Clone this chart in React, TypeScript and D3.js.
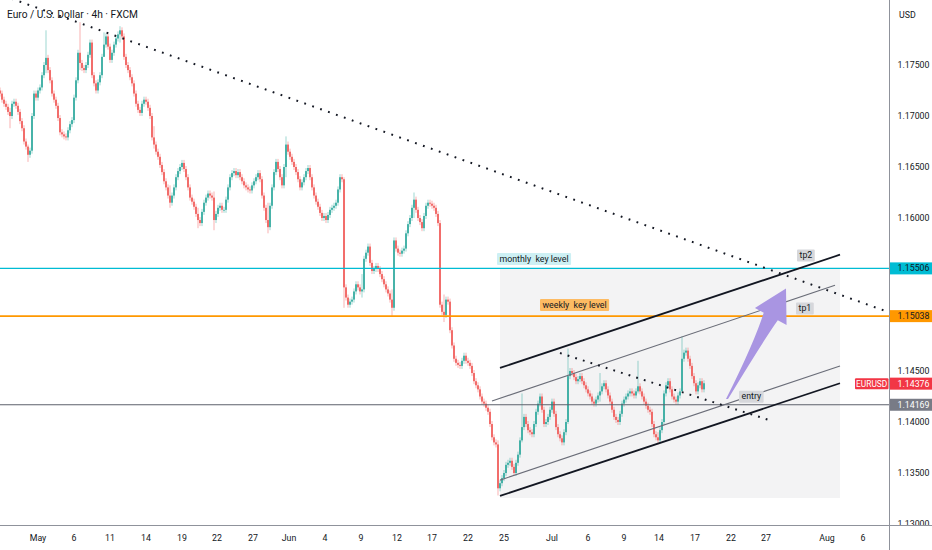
import React, { useMemo } from 'react';
import * as d3 from 'd3';

// 4h closes, in pips above 1.1000
const closesMay = [
  722, 716, 712, 709, 704, 700, 712, 714, 710, 704, 695, 688, 675, 670, 662, 666,
  700, 722, 718, 725, 728, 740, 750, 757, 745, 735, 722, 716, 710, 698, 684, 682,
  680, 679, 686, 692, 696, 718, 735, 762, 752, 747, 745, 750, 760, 772, 740, 732,
  725, 733, 740, 758, 770, 778, 768, 755, 762, 770, 776, 780, 784, 778, 758, 750,
  745, 738, 732, 722, 712, 706, 703, 712, 716, 714, 708, 700, 679, 672, 665, 660,
  652, 645, 636, 630, 622, 615, 622, 630, 640, 646, 650, 654, 648, 640, 630, 620,
  616, 611, 604, 598, 595, 606, 615, 620, 624, 622, 620, 598, 604, 610, 612, 608,
  608, 618, 630, 640, 644, 646, 642, 645, 640, 636, 632, 630, 628, 627, 632, 636,
  640, 644, 638, 622, 610, 598, 591, 612, 630, 645, 655, 648, 640, 632, 650, 672,
];
const closesJun = [
  665, 660, 655, 650, 645, 638, 630, 635, 640, 646, 649, 640, 630, 622, 616, 611,
  605, 600, 602, 598, 603, 608, 610, 612, 615, 628, 640, 638, 532, 522, 515, 518,
  520, 528, 535, 532, 528, 530, 560, 566, 572, 556, 548, 550, 553, 550, 545, 540,
  535, 530, 526, 520, 512, 578, 570, 566, 565, 568, 570, 585, 594, 600, 610, 618,
  608, 600, 596, 590, 602, 612, 615, 614, 612, 610, 604, 595, 515, 508, 505, 520,
  518, 490, 475, 462, 458, 456, 455, 460, 465, 460, 458, 455, 448, 440, 436, 432,
  425, 420, 418, 414, 410, 398, 385, 380, 378, 335, 340, 345, 350, 358, 360, 362,
  356, 350, 360, 368, 382, 395, 405, 398, 392, 390, 388, 398, 410, 418, 425, 412,
  398, 400, 405, 412,
];
const closesJul = [
  420, 408, 395, 388, 384, 380, 390, 400, 445, 450, 448, 444,
  440, 442, 445, 440, 436, 432, 428, 425, 420, 418, 422, 426, 430, 435, 438, 432,
  426, 420, 412, 405, 402, 400, 408, 418, 422, 425, 428, 430, 428, 426, 430, 435,
  430, 425, 420, 416, 412, 410, 398, 388, 385, 382, 392, 400, 428, 436, 440, 432,
  425, 422, 420, 426, 430, 462, 468, 470, 462, 455, 445, 438, 430, 436, 440, 432, 438,
];
const firstOpen = 725;

// long wicks: [bar, high, low] in pips above 1.1000
const wickSpikes = [
  [5, 708, 688], [14, 672, 655], [23, 784, 742], [40, 792, 745], [52, 782, 760], [60, 788, 772],
  [77, 690, 668], [85, 632, 610], [99, 610, 590], [107, 626, 588], [134, 615, 585], [143, 680, 640],
  [172, 640, 512], [181, 545, 522], [196, 530, 504], [207, 625, 600], [222, 525, 498],
  [249, 382, 328], [261, 428, 380], [284, 472, 398], [300, 448, 420], [319, 460, 428],
  [329, 390, 378], [341, 484, 430],
];

const dateTicks = [
  ['May', 19], ['6', 37], ['11', 55], ['14', 73], ['19', 91], ['22', 108.5], ['27', 126.5],
  ['Jun', 144.5], ['4', 162.5], ['9', 180.5], ['12', 198.5], ['17', 216], ['22', 234], ['25', 252],
  ['Jul', 276], ['6', 294], ['9', 312], ['14', 329.5], ['17', 347.5], ['22', 365.5], ['27', 383],
  ['Aug', 413.5], ['6', 431.5],
];
const priceTicks = [1.13, 1.135, 1.14, 1.145, 1.15, 1.155, 1.16, 1.165, 1.17, 1.175];

const monthlyLevel = 1.15506;
const weeklyLevel = 1.15038;
const entryLevel = 1.14169;
const lastPrice = 1.14376;

// drawings: [bar, price]
const mainTrend = [[41.5, 1.179], [442.5, 1.1509]];
const shortTrend = [[280, 1.14676], [386, 1.1401]];
const channelTop = [[250, 1.1453], [420, 1.1564]];
const channelUpper = [[246, 1.14206], [417.5, 1.1534]];
const channelLower = [[250, 1.1343], [420, 1.1455]];
const channelBottom = [[250, 1.13275], [420, 1.1438]];
const boxArea = [[250, 1.15506], [420, 1.13255]];
const arrowPts = [[363, 1.14225], [393, 1.1531]];

const FONT = 'Roboto, "Liberation Sans", Arial, sans-serif';
const TEXT = '#131722';
const UP = '#26a69a';
const DOWN = '#ef5350';

let ctx: CanvasRenderingContext2D | null = null;
const measure = (s: string, size: number) => {
  if (!ctx) ctx = document.createElement('canvas').getContext('2d');
  if (!ctx) return s.length * size * 0.5;
  ctx.font = `${size}px ${FONT}`;
  return ctx.measureText(s).width;
};

const App: React.FC = () => {
  const W = 932, H = 550;
  const plotW = 889, plotH = 525;

  const x = d3.scaleLinear().domain([0, 444.5]).range([0, plotW]);
  const y = d3.scaleLinear().domain([1.13, 1.175]).range([524, 65]);
  const p = (v: number) => 1.1 + v / 10000;

  const candles = useMemo(() => {
    const closes = [...closesMay, ...closesJun, ...closesJul];
    const spikes = new Map(wickSpikes.map(s => [s[0], s]));
    return closes.map((c, i) => {
      const o = i === 0 ? firstOpen : closes[i - 1];
      const s = spikes.get(i);
      return {
        i, o: p(o), c: p(c),
        hi: s ? p(Math.max(s[1], o, c)) : null,
        lo: s ? p(Math.min(s[2], o, c)) : null,
      };
    });
  }, []);

  const seg = (pts: number[][], extend = false) => {
    const [[b0, v0], [b1, v1]] = pts;
    if (extend) {
      const k = (v1 - v0) / (b1 - b0);
      const l = -10, r = 450;
      return { x1: x(l), y1: y(v0 + k * (l - b0)), x2: x(r), y2: y(v0 + k * (r - b0)) };
    }
    return { x1: x(b0), y1: y(v0), x2: x(b1), y2: y(v1) };
  };

  const label = (text: string, bx: number, by: number, fill: string, size = 8.8) => {
    const w = measure(text, size) + 5;
    const h = 12;
    return (
      <g>
        <rect x={bx} y={by - h} width={w} height={h} fill={fill} rx={1} />
        <text x={bx + 2.5} y={by - 3.3} fontSize={size} fill={TEXT} style={{ whiteSpace: 'pre' }}>{text}</text>
      </g>
    );
  };

  // arrow geometry
  const tail = [x(arrowPts[0][0]), y(arrowPts[0][1])];
  const tip = [x(arrowPts[1][0]), y(arrowPts[1][1])];
  const dx = tip[0] - tail[0], dy = tip[1] - tail[1];
  const len = Math.hypot(dx, dy);
  const u = [dx / len, dy / len];
  const n = [-u[1], u[0]];
  const base = [tip[0] - u[0] * 32, tip[1] - u[1] * 32];
  const at = (b: number[], s: number) => `${b[0] + n[0] * s},${b[1] + n[1] * s}`;
  const arrowPath = `M${tail[0]},${tail[1]} Q${tail[0] + u[0] * len * 0.5 - n[0] * 2},${tail[1] + u[1] * len * 0.5 - n[1] * 2} ${at(base, -8)} L${at(base, -18)} L${tip[0]},${tip[1]} L${at(base, 18)} L${at(base, 8)} Q${tail[0] + u[0] * len * 0.55 + n[0] * 5},${tail[1] + u[1] * len * 0.55 + n[1] * 5} ${tail[0] + 2},${tail[1]} Z`;

  const badgePrices = [monthlyLevel, weeklyLevel, entryLevel, lastPrice];
  const visibleTicks = priceTicks.filter(t => badgePrices.every(b => Math.abs(y(t) - y(b)) > 11));

  const badge = (price: number, bg: string, fg: string) => (
    <g>
      <rect x={890} y={y(price) - 6} width={42} height={12} fill={bg} />
      <text x={897.5} y={y(price) + 3.1} fontSize={8.8} fill={fg}>{price.toFixed(5)}</text>
    </g>
  );

  return (
    <svg width={W} height={H} style={{ position: 'absolute', left: 0, top: 0, background: '#fff' }} fontFamily={FONT}>
      <defs>
        <clipPath id="plot"><rect x={0} y={0} width={plotW} height={plotH} /></clipPath>
        <clipPath id="axis"><rect x={plotW} y={0} width={W - plotW} height={plotH} /></clipPath>
      </defs>
      <rect width={W} height={H} fill="#fff" />

      <g clipPath="url(#plot)">
        <rect x={x(boxArea[0][0])} y={y(boxArea[0][1])} width={x(boxArea[1][0]) - x(boxArea[0][0])}
          height={y(boxArea[1][1]) - y(boxArea[0][1])} fill="#f3f3f4" />

        {candles.map(d => {
          const col = d.c >= d.o ? UP : DOWN;
          const top = y(Math.max(d.o, d.c));
          const bot = y(Math.min(d.o, d.c));
          const cx = x(d.i);
          const wt = d.hi !== null ? y(d.hi) : top - 3;
          const wb = d.lo !== null ? y(d.lo) : bot + 3;
          return (
            <g key={d.i}>
              <line x1={cx} x2={cx} y1={wt} y2={wb} stroke={col} strokeOpacity={0.5} strokeWidth={0.9} />
              <rect x={cx - 0.8} y={top} width={1.6} height={Math.max(0.8, bot - top)} fill={col} />
            </g>
          );
        })}

        <line x1={0} x2={plotW} y1={y(monthlyLevel)} y2={y(monthlyLevel)} stroke="#00bcd4" strokeWidth={1.3} />
        <line x1={0} x2={plotW} y1={y(weeklyLevel)} y2={y(weeklyLevel)} stroke="#ff9800" strokeWidth={1.8} />
        <line x1={0} x2={plotW} y1={y(entryLevel)} y2={y(entryLevel)} stroke="#5d606b" strokeWidth={1.2} />

        <line {...seg(channelTop)} stroke="#131722" strokeWidth={1.8} />
        <line {...seg(channelBottom)} stroke="#131722" strokeWidth={1.8} />
        <line {...seg(channelUpper)} stroke="#6a6d78" strokeWidth={1.1} />
        <line {...seg(channelLower)} stroke="#6a6d78" strokeWidth={1.1} />

        <line {...seg(mainTrend, true)} stroke="#131722" strokeWidth={2} strokeDasharray="1.8 6.6" />
        <line {...seg(shortTrend)} stroke="#131722" strokeWidth={2} strokeDasharray="1.8 6.2" />

        {label('monthly  key level', x(248.5), y(monthlyLevel) - 3.5, '#cdf0f4')}
        {label('weekly  key level', x(270), y(weeklyLevel) - 5, '#fdbb63')}
        {label('tp2', x(398.5), y(monthlyLevel) - 7, '#d6d7db')}
        {label('tp1', x(398), y(weeklyLevel) - 1.5, '#d6d7db')}
        {label('entry', x(369.5), y(entryLevel) - 2, '#d6d7db')}

        <path d={arrowPath} fill="#a995e2" />

        <text x={7} y={18} fontSize={10.2} fill={TEXT}>Euro / U.S. Dollar · 4h · FXCM</text>
      </g>

      {/* price axis */}
      <g clipPath="url(#axis)">
        {visibleTicks.map(t => (
          <text key={t} x={897.5} y={y(t) + 3.1} fontSize={8.8} fill={TEXT}>{t.toFixed(5)}</text>
        ))}
      </g>
      <text x={899} y={17.5} fontSize={8.8} fill={TEXT}>USD</text>
      {badge(monthlyLevel, '#00bcd4', TEXT)}
      {badge(weeklyLevel, '#ff9800', TEXT)}
      {badge(entryLevel, '#787b86', '#fff')}
      <rect x={855} y={y(lastPrice) - 5.5} width={33.5} height={11} fill="#f23645" rx={1} />
      <text x={871.7} y={y(lastPrice) + 3} fontSize={8.4} fill="#fff" textAnchor="middle">EURUSD</text>
      {badge(lastPrice, '#f23645', '#fff')}

      {/* time axis */}
      {dateTicks.map(([lab, b], k) => (
        <text key={k} x={x(b as number)} y={541} fontSize={8.8} textAnchor="middle" fill={TEXT}>{lab}</text>
      ))}

      <line x1={0} x2={W} y1={525.5} y2={525.5} stroke="#8f929b" strokeWidth={1} />
      <line x1={889.5} x2={889.5} y1={0} y2={H} stroke="#8f929b" strokeWidth={1} />
    </svg>
  );
};

export default App;
